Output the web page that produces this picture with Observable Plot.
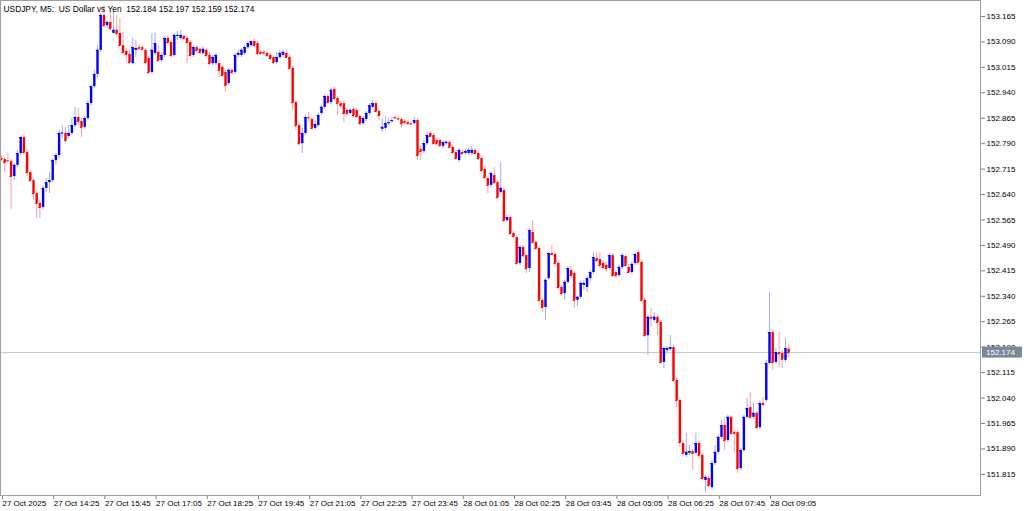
<!DOCTYPE html>
<html>
<head>
<meta charset="utf-8">
<script src="https://cdn.jsdelivr.net/npm/d3@7"></script>
<script src="https://cdn.jsdelivr.net/npm/@observablehq/plot@0.6"></script>
<style>
  html, body { margin: 0; padding: 0; background: #ffffff; }
  #chart svg { display: block; }
</style>
</head>
<body>
<div id="chart"></div>
<script>
// ---- Data (USDJPY M5, 247 bars, 27 Oct 13:05 -> 28 Oct 09:30) ----
const symbolTitle = "USDJPY, M5:\u00a0 US Dollar vs Yen\u00a0 152.184 152.197 152.159 152.174";
const bidPrice = 152.174;

const open = [
152.746,152.743,152.740,152.737,152.693,152.726,152.761,152.808,152.764,152.705,
152.681,152.643,152.614,152.602,152.658,152.675,152.681,152.740,152.755,152.820,
152.820,152.811,152.820,152.843,152.867,152.855,152.838,152.864,152.908,152.958,
152.994,153.065,153.168,153.138,153.147,153.115,153.124,153.115,153.079,153.062,
153.053,153.026,153.065,153.073,153.073,153.065,153.041,153.000,153.056,153.059,
153.035,153.050,153.100,153.088,153.050,153.106,153.100,153.106,153.100,153.088,
153.050,153.073,153.068,153.056,153.065,153.050,153.026,153.026,153.026,153.015,
153.000,152.967,153.006,153.000,153.050,153.050,153.056,153.073,153.079,153.091,
153.085,153.059,153.059,153.056,153.050,153.044,153.029,153.044,153.050,153.056,
153.044,153.012,152.911,152.843,152.790,152.820,152.867,152.861,152.835,152.843,
152.879,152.897,152.929,152.911,152.950,152.923,152.908,152.908,152.888,152.879,
152.891,152.888,152.870,152.849,152.861,152.879,152.897,152.908,152.885,152.832,
152.835,152.849,152.855,152.867,152.864,152.861,152.855,152.852,152.849,152.849,
152.858,152.773,152.767,152.790,152.820,152.814,152.799,152.799,152.782,152.790,
152.793,152.779,152.764,152.740,152.764,152.761,152.761,152.761,152.770,152.761,
152.746,152.714,152.687,152.667,152.696,152.675,152.646,152.652,152.563,152.572,
152.525,152.513,152.437,152.484,152.460,152.422,152.528,152.499,152.481,152.328,
152.307,152.392,152.466,152.463,152.437,152.366,152.348,152.381,152.416,152.407,
152.328,152.337,152.372,152.366,152.392,152.410,152.451,152.448,152.437,152.431,
152.422,152.460,152.410,152.401,152.425,152.457,152.425,152.410,152.437,152.469,
152.440,152.328,152.224,152.278,152.269,152.278,152.263,152.145,152.180,152.183,
152.189,152.092,152.033,151.906,151.871,151.877,151.882,151.877,151.906,151.871,
151.797,151.803,151.776,151.847,151.880,151.924,151.959,151.915,151.983,151.939,
151.938,151.832,151.885,151.983,152.012,151.983,151.995,151.953,152.024,152.033,
152.142,152.233,152.145,152.174,152.171,152.151,152.184
];
const high = [
152.755,152.749,152.761,152.743,152.731,152.770,152.811,152.814,152.770,152.711,
152.687,152.652,152.622,152.664,152.687,152.705,152.746,152.761,152.829,152.843,
152.838,152.843,152.864,152.897,152.894,152.864,152.870,152.917,152.964,153.006,
153.079,153.174,153.197,153.153,153.183,153.188,153.168,153.159,153.118,153.070,
153.065,153.100,153.094,153.082,153.079,153.070,153.047,153.115,153.115,153.079,
153.059,153.106,153.109,153.094,153.115,153.121,153.124,153.109,153.106,153.094,
153.079,153.079,153.073,153.076,153.070,153.059,153.050,153.056,153.035,153.020,
153.006,153.012,153.012,153.056,153.065,153.070,153.079,153.091,153.094,153.100,
153.091,153.065,153.065,153.062,153.056,153.050,153.059,153.065,153.065,153.065,
153.050,153.018,152.917,152.849,152.835,152.873,152.882,152.867,152.858,152.879,
152.902,152.935,152.935,152.953,152.956,152.929,152.914,152.914,152.894,152.894,
152.897,152.894,152.876,152.870,152.885,152.908,152.917,152.914,152.891,152.864,
152.870,152.864,152.867,152.873,152.870,152.867,152.861,152.858,152.855,152.867,
152.864,152.784,152.799,152.823,152.826,152.820,152.805,152.805,152.799,152.799,
152.799,152.784,152.770,152.776,152.770,152.773,152.776,152.782,152.776,152.767,
152.752,152.720,152.693,152.708,152.720,152.681,152.734,152.658,152.581,152.578,
152.531,152.519,152.490,152.490,152.466,152.540,152.563,152.504,152.487,152.334,
152.392,152.469,152.490,152.469,152.443,152.372,152.387,152.428,152.428,152.413,
152.340,152.384,152.387,152.398,152.416,152.469,152.469,152.469,152.445,152.440,
152.466,152.466,152.416,152.431,152.466,152.463,152.434,152.440,152.469,152.475,
152.445,152.334,152.284,152.304,152.292,152.284,152.269,152.192,152.192,152.224,
152.195,152.098,152.039,151.912,151.936,151.900,151.888,151.936,151.912,151.877,
151.812,151.809,151.856,151.900,151.930,151.974,151.980,151.989,151.989,151.944,
151.944,151.891,151.989,152.039,152.056,152.024,152.000,152.033,152.042,152.151,
152.351,152.239,152.186,152.233,152.180,152.216,152.197
];
const low = [
152.737,152.705,152.737,152.596,152.681,152.720,152.755,152.755,152.693,152.675,
152.622,152.569,152.569,152.593,152.646,152.643,152.675,152.726,152.746,152.805,
152.793,152.805,152.814,152.838,152.843,152.808,152.832,152.858,152.902,152.953,
152.982,153.059,153.132,153.129,153.124,153.112,153.106,153.076,153.053,153.029,
153.023,153.023,153.044,153.065,153.065,153.023,152.994,152.994,153.050,153.029,
153.029,153.044,153.082,153.044,153.044,153.094,153.094,153.094,153.026,153.044,
153.044,153.059,153.050,153.050,153.044,153.020,153.020,153.020,152.985,152.985,
152.941,152.961,152.991,152.994,153.044,153.044,153.050,153.068,153.073,153.073,
153.050,153.050,153.050,153.044,153.035,153.023,153.023,153.038,153.044,153.041,
153.006,152.888,152.829,152.784,152.761,152.814,152.852,152.829,152.829,152.838,
152.873,152.891,152.905,152.905,152.917,152.873,152.894,152.852,152.873,152.873,
152.867,152.864,152.843,152.843,152.855,152.873,152.894,152.882,152.858,152.823,
152.829,152.843,152.849,152.861,152.858,152.835,152.846,152.843,152.843,152.846,
152.740,152.740,152.761,152.784,152.808,152.787,152.784,152.779,152.776,152.784,
152.776,152.758,152.740,152.734,152.755,152.755,152.755,152.755,152.758,152.740,
152.705,152.684,152.643,152.661,152.670,152.625,152.640,152.557,152.557,152.519,
152.510,152.431,152.431,152.451,152.407,152.410,152.493,152.475,152.322,152.292,
152.269,152.387,152.457,152.431,152.357,152.340,152.328,152.375,152.392,152.304,
152.310,152.331,152.357,152.351,152.381,152.404,152.440,152.422,152.416,152.410,
152.416,152.395,152.392,152.395,152.419,152.425,152.407,152.404,152.431,152.431,
152.322,152.219,152.166,152.248,152.263,152.224,152.139,152.127,152.174,152.177,
152.086,152.012,151.894,151.871,151.865,151.871,151.826,151.871,151.865,151.797,
151.761,151.776,151.770,151.841,151.874,151.918,151.885,151.909,151.930,151.877,
151.818,151.826,151.880,151.977,151.977,151.977,151.947,151.947,152.015,152.027,
152.136,152.121,152.139,152.130,152.127,152.145,152.159
];
const close = [
152.743,152.734,152.739,152.693,152.726,152.761,152.808,152.764,152.705,152.681,
152.643,152.614,152.602,152.658,152.675,152.681,152.740,152.755,152.820,152.821,
152.799,152.820,152.843,152.867,152.855,152.838,152.864,152.908,152.958,152.994,
153.065,153.168,153.138,153.147,153.129,153.124,153.115,153.079,153.059,153.053,
153.029,153.073,153.070,153.070,153.068,153.029,153.000,153.065,153.085,153.035,
153.050,153.100,153.088,153.050,153.109,153.109,153.109,153.100,153.088,153.050,
153.073,153.065,153.059,153.068,153.050,153.026,153.044,153.050,153.006,152.991,
152.961,153.006,153.000,153.050,153.056,153.065,153.073,153.085,153.091,153.079,
153.056,153.056,153.057,153.050,153.041,153.029,153.044,153.056,153.059,153.044,
153.012,152.911,152.843,152.790,152.820,152.867,152.866,152.835,152.846,152.873,
152.897,152.929,152.911,152.947,152.923,152.908,152.902,152.879,152.879,152.888,
152.873,152.870,152.849,152.864,152.879,152.902,152.908,152.885,152.873,152.838,
152.849,152.852,152.858,152.866,152.863,152.849,152.852,152.849,152.848,152.858,
152.755,152.767,152.790,152.814,152.811,152.790,152.790,152.784,152.793,152.794,
152.779,152.764,152.746,152.770,152.761,152.767,152.770,152.770,152.761,152.746,
152.711,152.690,152.667,152.702,152.675,152.631,152.658,152.563,152.572,152.525,
152.516,152.437,152.484,152.460,152.422,152.534,152.499,152.481,152.328,152.307,
152.387,152.466,152.463,152.437,152.366,152.348,152.381,152.422,152.401,152.328,
152.337,152.378,152.378,152.392,152.410,152.454,152.445,152.431,152.425,152.422,
152.460,152.401,152.401,152.425,152.460,152.431,152.410,152.434,152.463,152.440,
152.328,152.224,152.278,152.275,152.278,152.263,152.145,152.186,152.186,152.189,
152.092,152.033,151.909,151.877,151.880,151.882,151.877,151.906,151.871,151.803,
151.806,151.782,151.847,151.880,151.924,151.959,151.915,151.983,151.936,151.936,
151.832,151.885,151.983,152.009,151.983,151.995,151.953,152.024,152.021,152.142,
152.233,152.145,152.174,152.171,152.154,152.186,152.174
];

// time axis: one label every 16 bars (80 minutes)
const xTickBars = [0,16,32,48,64,80,96,112,128,144,160,176,192,208,224,240];
const xTickLabels = ["27 Oct 2025","27 Oct 14:25","27 Oct 15:45","27 Oct 17:05","27 Oct 18:25",
  "27 Oct 19:45","27 Oct 21:05","27 Oct 22:25","27 Oct 23:45","28 Oct 01:05","28 Oct 02:25",
  "28 Oct 03:45","28 Oct 05:05","28 Oct 06:25","28 Oct 07:45","28 Oct 09:05"];
const yTickValues = [153.165,153.090,153.015,152.940,152.865,152.790,152.715,152.640,152.565,
  152.490,152.415,152.340,152.265,152.190,152.115,152.040,151.965,151.890,151.815];

// ---- Build table ----
const bars = close.map((c, i) => ({i, o: open[i], h: high[i], l: low[i], c}));
const UP = "#0000ff", DOWN = "#ff0000", UP_WICK = "#a9a9f0", DOWN_WICK = "#f5a3a3";
const isUp = d => d.c >= d.o;
const labelOf = new Map(xTickBars.map((b, k) => [b, xTickLabels[k]]));

const chart = Plot.plot({
  width: 1024,
  height: 511,
  marginLeft: 0,
  marginRight: 44,
  marginTop: 0,
  marginBottom: 16,
  style: {fontFamily: "'Liberation Sans', Arial, sans-serif", fontSize: "8px", background: "#ffffff", color: "#000000", overflow: "visible"},
  x: {type: "linear", domain: [-0.3125, 305.94], axis: null, label: null},
  y: {type: "linear", domain: [151.7527, 153.212], axis: null, label: null},
  marks: [
    Plot.ruleY([bidPrice], {stroke: "#c4c8cc", strokeWidth: 1}),
    Plot.ruleX(bars, {x: "i", y1: "l", y2: "h", stroke: d => isUp(d) ? UP_WICK : DOWN_WICK, strokeWidth: 1}),
    Plot.ruleX(bars, {x: "i", y1: "o", y2: "c", stroke: d => isUp(d) ? UP : DOWN, strokeWidth: 2.4}),
    Plot.ruleY(bars, {y: "c", x1: d => d.i - 0.375, x2: d => d.i + 0.375, stroke: d => isUp(d) ? UP : DOWN, strokeWidth: 1}),
    Plot.axisY({anchor: "right", label: null, ticks: yTickValues, tickFormat: d => d.toFixed(3), tickSize: 4, tickPadding: 2, stroke: "#808080", fill: "#000000"}),
    Plot.axisX({anchor: "bottom", label: null, ticks: xTickBars, tickFormat: d => labelOf.get(d), tickSize: 4, tickPadding: 1, textAnchor: "start", dx: 1, stroke: "#808080", fill: "#000000"}),
    Plot.frame({stroke: "#a0a0a0"}),
    Plot.text([symbolTitle], {frameAnchor: "top-left", dx: 3, dy: 6, textAnchor: "start", fill: "#000000", fontSize: 8.4})
  ]
});

document.getElementById("chart").appendChild(chart);

// bid price label box on the right price scale
const yS = chart.scale("y");
const yb = yS.apply(bidPrice);
const svg = d3.select(chart);
const g = svg.append("g").attr("text-anchor", "start");
g.append("rect").attr("x", 982).attr("y", yb - 5.5).attr("width", 40).attr("height", 11).attr("fill", "#7a8898");
g.append("text").attr("x", 986).attr("y", yb + 3).attr("fill", "#ffffff").attr("text-anchor", "start")
  .attr("font-family", "'Liberation Sans', Arial, sans-serif").attr("font-size", 8).text(bidPrice.toFixed(3));
</script>
</body>
</html>
